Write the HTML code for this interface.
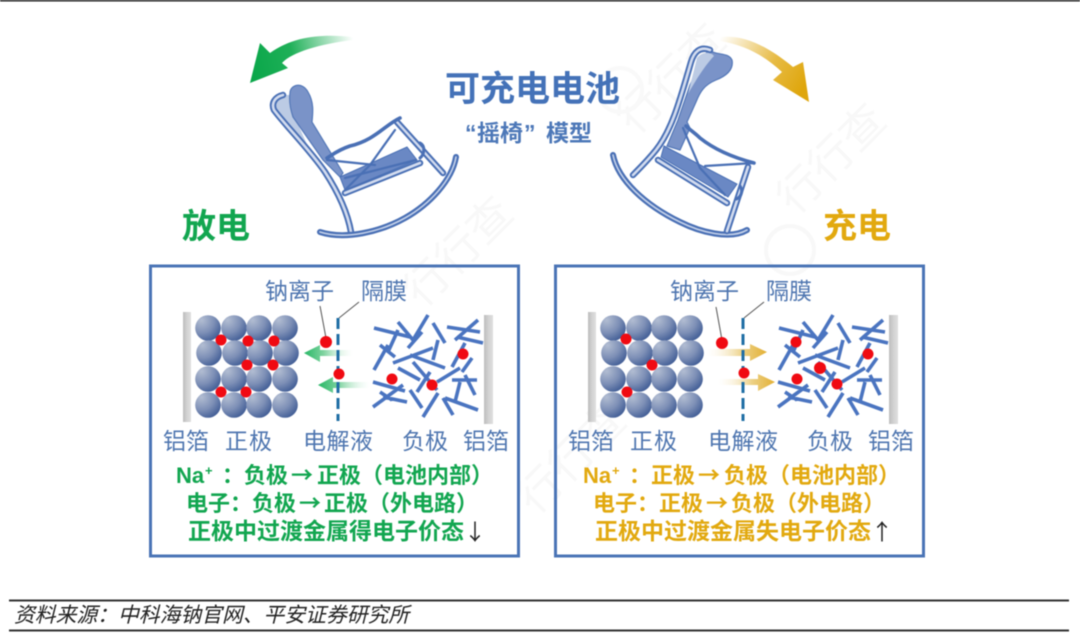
<!DOCTYPE html>
<html lang="zh">
<head>
<meta charset="utf-8">
<style>
html,body{margin:0;padding:0;background:#fff;width:1080px;height:639px;overflow:hidden}
svg{display:block;filter:blur(.4px)}
text{font-family:"Liberation Sans","Noto Sans CJK SC",sans-serif}
.lb{font-size:23px;fill:#4f76b0}
.g,.y{font-family:"Noto Sans CJK SC","Liberation Sans",sans-serif;font-size:22px;font-weight:700}
.g{fill:#12a650}
.y{fill:#e2a90f}
.big{font-size:23px}
.na{font-family:"Liberation Sans",sans-serif}
.sup{font-family:"Liberation Sans",sans-serif;font-size:13px}
.ar{font-family:"Noto Sans CJK SC",sans-serif;font-size:22px;fill:#222}
.wm{font-size:44px;fill:#f8f8f8}
.cjk{font-family:"Noto Sans CJK SC","Liberation Sans",sans-serif}
</style>
</head>
<body>
<svg width="1080" height="639" viewBox="0 0 1080 639" xmlns="http://www.w3.org/2000/svg">
<defs>
<radialGradient id="sp" cx="25%" cy="20%" r="100%">
<stop offset="0" stop-color="#b2bdd2"/><stop offset=".5" stop-color="#7d8fb6"/><stop offset="1" stop-color="#2f4e8c"/>
</radialGradient>
<linearGradient id="ga" x1="250" y1="60" x2="353" y2="38" gradientUnits="userSpaceOnUse">
<stop offset="0" stop-color="#0aa74a"/><stop offset=".4" stop-color="#1fb058"/><stop offset="1" stop-color="#fff"/>
</linearGradient>
<linearGradient id="ya" x1="720" y1="38" x2="805" y2="85" gradientUnits="userSpaceOnUse">
<stop offset="0" stop-color="#fff"/><stop offset=".6" stop-color="#e7bb45"/><stop offset="1" stop-color="#dfa60c"/>
</linearGradient>
<linearGradient id="gs" x1="0" x2="1" y1="0" y2="0">
<stop offset="0" stop-color="#27b765"/><stop offset=".4" stop-color="#7fd3a0"/><stop offset="1" stop-color="#fff" stop-opacity=".2"/>
</linearGradient>
<linearGradient id="ys" x1="0" x2="1" y1="0" y2="0">
<stop offset="0" stop-color="#fff" stop-opacity=".2"/><stop offset=".6" stop-color="#ecd084"/><stop offset="1" stop-color="#e3b034"/>
</linearGradient>
<linearGradient id="foil" x1="0" x2="1" y1="0" y2="0">
<stop offset="0" stop-color="#bdbdbd"/><stop offset=".5" stop-color="#d2d2d2"/><stop offset="1" stop-color="#e0e0e0"/>
</linearGradient>
<g id="balls">
<circle cx="208" cy="328" r="12.8" fill="url(#sp)"/><circle cx="234" cy="328" r="12.8" fill="url(#sp)"/><circle cx="259" cy="328" r="12.8" fill="url(#sp)"/><circle cx="285" cy="328" r="12.8" fill="url(#sp)"/>
<circle cx="209" cy="353" r="12.8" fill="url(#sp)"/><circle cx="235" cy="353" r="12.8" fill="url(#sp)"/><circle cx="260" cy="353" r="12.8" fill="url(#sp)"/><circle cx="286" cy="353" r="12.8" fill="url(#sp)"/>
<circle cx="208" cy="379" r="12.8" fill="url(#sp)"/><circle cx="234" cy="379" r="12.8" fill="url(#sp)"/><circle cx="259" cy="379" r="12.8" fill="url(#sp)"/><circle cx="285" cy="379" r="12.8" fill="url(#sp)"/>
<circle cx="208" cy="405" r="12.8" fill="url(#sp)"/><circle cx="234" cy="405" r="12.8" fill="url(#sp)"/><circle cx="259" cy="405" r="12.8" fill="url(#sp)"/><circle cx="285" cy="405" r="12.8" fill="url(#sp)"/>
</g>
<g id="sticks" stroke="#4a74c0" stroke-width="3.6" fill="none">
<path d="M374 328L410 337M398 322L413 340M388 352L398 330M428 315L413 340M422 332L408 348M433 323L445 343M447 327L480 332M478 320L455 340M457 337L483 343M380 345L395 357M388 345L374 370M393 363L433 348M410 355L445 368M438 340L433 360M413 362L437 390M398 368L420 380M465 343L452 367M472 358L462 372M437 382L460 368M373 382L405 391M403 385L373 407M383 397L407 402M410 390L422 408M438 393L423 417M443 398L453 415M445 398L478 410M465 375L475 395M460 382L455 402M380 392L392 400M430 372L417 392M452 380L477 380"/>
</g>
<g id="panelLabels">
<text x="163" y="449" class="lb" textLength="46">铝箔</text>
<text x="225" y="449" class="lb" textLength="47">正极</text>
<text x="303" y="449" class="lb" textLength="70">电解液</text>
<text x="402" y="449" class="lb" textLength="46">负极</text>
<text x="463" y="449" class="lb" textLength="46">铝箔</text>
<text x="265" y="299" class="lb" textLength="69">钠离子</text>
<text x="361" y="299" class="lb" textLength="46">隔膜</text>
</g>
</defs>

<rect width="1080" height="639" fill="#fff"/>
<rect x="0" y="0" width="1080" height="1.5" fill="#222"/>

<!-- watermarks -->
<g transform="rotate(-45 440 270)"><text x="400" y="285" class="wm">行行查</text></g>
<g transform="rotate(-45 820 170)"><text x="770" y="185" class="wm">行行查</text></g>
<g transform="rotate(-45 660 90)"><text x="610" y="105" class="wm">行行查</text></g>
<g transform="rotate(-45 560 470)"><text x="510" y="485" class="wm">行行查</text></g>
<circle cx="790" cy="250" r="24" fill="none" stroke="#f8f8f8" stroke-width="4"/>
<circle cx="620" cy="90" r="22" fill="none" stroke="#f9f9f9" stroke-width="4"/>

<!-- arrows -->
<path d="M353 37C325 34 295 35 270 53L260 43L250 83L288 68L282 63C292 52 320 44 353 40Z" fill="url(#ga)"/>
<path d="M720 37C745 34 770 48 793 67L803 62L809 102L773 80L782 72C765 56 745 45 720 41Z" fill="url(#ya)"/>

<!-- title -->
<text x="445" y="101" font-size="35" font-weight="700" fill="#4472b8" class="cjk">可充电电池</text>
<g font-size="23" font-weight="700" fill="#4d78b8">
<text x="465" y="141">“</text><text x="477" y="141" class="cjk">摇椅</text><text x="524" y="141">”</text><text x="546" y="141" class="cjk">模型</text>
</g>
<text x="182" y="238" font-size="34" font-weight="700" fill="#12a650" class="cjk">放电</text>
<text x="823" y="238" font-size="34" font-weight="700" fill="#e2a90f" class="cjk">充电</text>

<!-- left chair -->
<path d="M283 95C275 97 271 103 274 110C285 125 300 140 313 158L293 113L290 95Z" fill="#bccbe4"/>
<path d="M290 93C290 85 302 81 308 92C314 102 313 112 312 122L343 173L340 177L323 160L293 117C290 108 289 100 290 93Z" fill="#7a93c8" stroke="#5478b8" stroke-width="1.2"/>
<path d="M340 177L407 147L417 160L345 190Z" fill="#6a88c4" stroke="#4a70b5" stroke-width="1"/>
<g fill="none" stroke-linecap="round">
<path d="M283 95C275 97 271 103 274 110C285 125 310 150 325 172C340 195 348 215 351 232" stroke="#4a70b5" stroke-width="6.5"/>
<path d="M283 95C275 97 271 103 274 110C285 125 310 150 325 172C340 195 348 215 351 232" stroke="#d3dcef" stroke-width="2.6"/>
<path d="M320 232C345 240 380 232 405 218C430 204 452 180 456 157" stroke="#4a70b5" stroke-width="6"/>
<path d="M320 232C345 240 380 232 405 218C430 204 452 180 456 157" stroke="#c5d2ea" stroke-width="1.6"/>
<path d="M345 193L420 163" stroke="#4a70b5" stroke-width="6.5"/>
<path d="M345 193L420 163" stroke="#d3dcef" stroke-width="2.6"/>
<path d="M397 122L443 173" stroke="#4a70b5" stroke-width="6.5"/>
<path d="M397 122L443 173" stroke="#d3dcef" stroke-width="2.4"/>
<path d="M400 118C385 125 375 140 350 146C338 150 332 155 327 158" stroke="#4a70b5" stroke-width="3.6"/>
<path d="M327 160L375 165M395 130L370 165L345 190" stroke="#4a70b5" stroke-width="2.2"/>
<path d="M345 178L416 160" stroke="#4a70b5" stroke-width="2.2"/>
<path d="M420 143C426 146 424 155 420 158" stroke="#4a70b5" stroke-width="3"/>
</g>

<!-- right chair -->
<path d="M708 50C718 56 728 52 732 60C734 70 726 76 716 80C704 85 700 92 696 102L687 122L690 128L680 150L667 146L678 120L690 85Z" fill="#7a93c8" stroke="#5478b8" stroke-width="1.2"/>
<path d="M697 58C702 52 710 51 714 56C708 62 698 76 688 94Z" fill="#bccbe4"/>
<path d="M664 146L737 184L728 197L661 157Z" fill="#6a88c4" stroke="#4a70b5" stroke-width="1"/>
<g fill="none" stroke-linecap="round">
<path d="M710 50C700 46 694 52 691 62C680 100 672 130 656 150C648 160 640 168 633 175" stroke="#4a70b5" stroke-width="6.5"/>
<path d="M710 50C700 46 694 52 691 62C680 100 672 130 656 150C648 160 640 168 633 175" stroke="#d3dcef" stroke-width="2.6"/>
<path d="M613 155C618 180 645 205 680 222C700 232 730 240 747 230" stroke="#4a70b5" stroke-width="6"/>
<path d="M613 155C618 180 645 205 680 222C700 232 730 240 747 230" stroke="#c5d2ea" stroke-width="1.6"/>
<path d="M658 160L727 203" stroke="#4a70b5" stroke-width="6.5"/>
<path d="M658 160L727 203" stroke="#d3dcef" stroke-width="2.6"/>
<path d="M748 167L727 231" stroke="#4a70b5" stroke-width="6.5"/>
<path d="M748 167L727 231" stroke="#d3dcef" stroke-width="2.6"/>
<path d="M754 163C735 158 715 150 700 138C695 133 690 130 686 126" stroke="#4a70b5" stroke-width="3.6"/>
<path d="M754 163L705 166M683 128L700 168L725 195" stroke="#4a70b5" stroke-width="2.2"/>
<path d="M740 186C744 192 740 198 736 199" stroke="#4a70b5" stroke-width="3"/>
</g>

<!-- boxes -->
<rect x="150.500" y="266" width="368" height="290" fill="none" stroke="#4a74b6" stroke-width="3"/>
<rect x="555.500" y="266" width="368" height="290" fill="none" stroke="#4a74b6" stroke-width="3"/>

<!-- left panel -->
<rect x="183" y="312" width="8" height="110" fill="url(#foil)"/>
<rect x="484" y="315" width="9" height="109" fill="url(#foil)"/>
<use href="#balls"/>
<use href="#sticks"/>
<path d="M320 306L326 338M359 302L339 318" stroke="#555" stroke-width="1" fill="none"/>
<path d="M304 353L320 345V350H353V356H320V362Z" fill="url(#gs)"/>
<path d="M318 385L333 377V382H370V388H333V393Z" fill="url(#gs)"/>
<path d="M338 318V421" stroke="#1f6ea5" stroke-width="3" stroke-dasharray="11 5"/>
<g fill="#f00a12">
<circle cx="221" cy="340" r="5.500"/><circle cx="248" cy="341" r="5.500"/><circle cx="274" cy="341" r="5.500"/>
<circle cx="247" cy="365" r="5.500"/><circle cx="273" cy="365" r="5.500"/><circle cx="221" cy="392" r="5.500"/><circle cx="246" cy="392" r="5.500"/>
<circle cx="326" cy="342" r="6"/><circle cx="339" cy="374" r="5.500"/>
<circle cx="392" cy="379" r="5.500"/><circle cx="432" cy="385" r="5.500"/><circle cx="463" cy="354" r="5.500"/>
</g>
<use href="#panelLabels"/>
<text x="176" y="483" class="g na">Na</text><text x="205" y="475" class="g sup">+</text><text x="222" y="483" class="g">：负极<tspan dx="3">→</tspan><tspan dx="4">正极（电池内部）</tspan></text>
<text x="186" y="511" class="g">电子：负极<tspan dx="3">→</tspan><tspan dx="3">正极（外电路）</tspan></text>
<text x="188" y="539" class="g big">正极中过渡金属得电子价态</text>
<text x="464" y="540" class="ar">↓</text>

<!-- right panel -->
<rect x="588" y="312" width="8" height="110" fill="url(#foil)"/>
<rect x="889" y="315" width="9" height="109" fill="url(#foil)"/>
<use href="#balls" x="405"/>
<use href="#sticks" x="405"/>
<path d="M716 307L722 340M764 302L744 318" stroke="#555" stroke-width="1" fill="none"/>
<path d="M707 349H750V344L767 352L750 361V356H707Z" fill="url(#ys)"/>
<path d="M718 379H758V374L775 382L758 391V385H718Z" fill="url(#ys)"/>
<path d="M743 318V421" stroke="#1f6ea5" stroke-width="3" stroke-dasharray="11 5"/>
<g fill="#f00a12">
<circle cx="626" cy="339" r="5.500"/><circle cx="652" cy="365" r="5.500"/><circle cx="627" cy="392" r="5.500"/>
<circle cx="722" cy="343" r="6"/><circle cx="744" cy="373" r="5.500"/>
<circle cx="796" cy="342" r="5.500"/><circle cx="820" cy="368" r="6"/><circle cx="797" cy="379" r="5.500"/>
<circle cx="837" cy="384" r="5.500"/><circle cx="868" cy="354" r="5.500"/>
</g>
<use href="#panelLabels" x="405"/>
<text x="583" y="483" class="y na">Na</text><text x="612" y="475" class="y sup">+</text><text x="629" y="483" class="y">：正极<tspan dx="3">→</tspan><tspan dx="4">负极（电池内部）</tspan></text>
<text x="593" y="511" class="y">电子：正极<tspan dx="3">→</tspan><tspan dx="3">负极（外电路）</tspan></text>
<text x="595" y="539" class="y big">正极中过渡金属失电子价态</text>
<text x="871" y="540" class="ar">↑</text>

<!-- footer -->
<rect x="9" y="599.500" width="1060" height="2" fill="#333"/>
<rect x="9" y="629.500" width="1060" height="2" fill="#333"/>
<text x="14" y="622" font-size="20.800" fill="#222" font-style="italic" class="cjk">资料来源：中科海钠官网、平安证券研究所</text>
</svg>
</body>
</html>
